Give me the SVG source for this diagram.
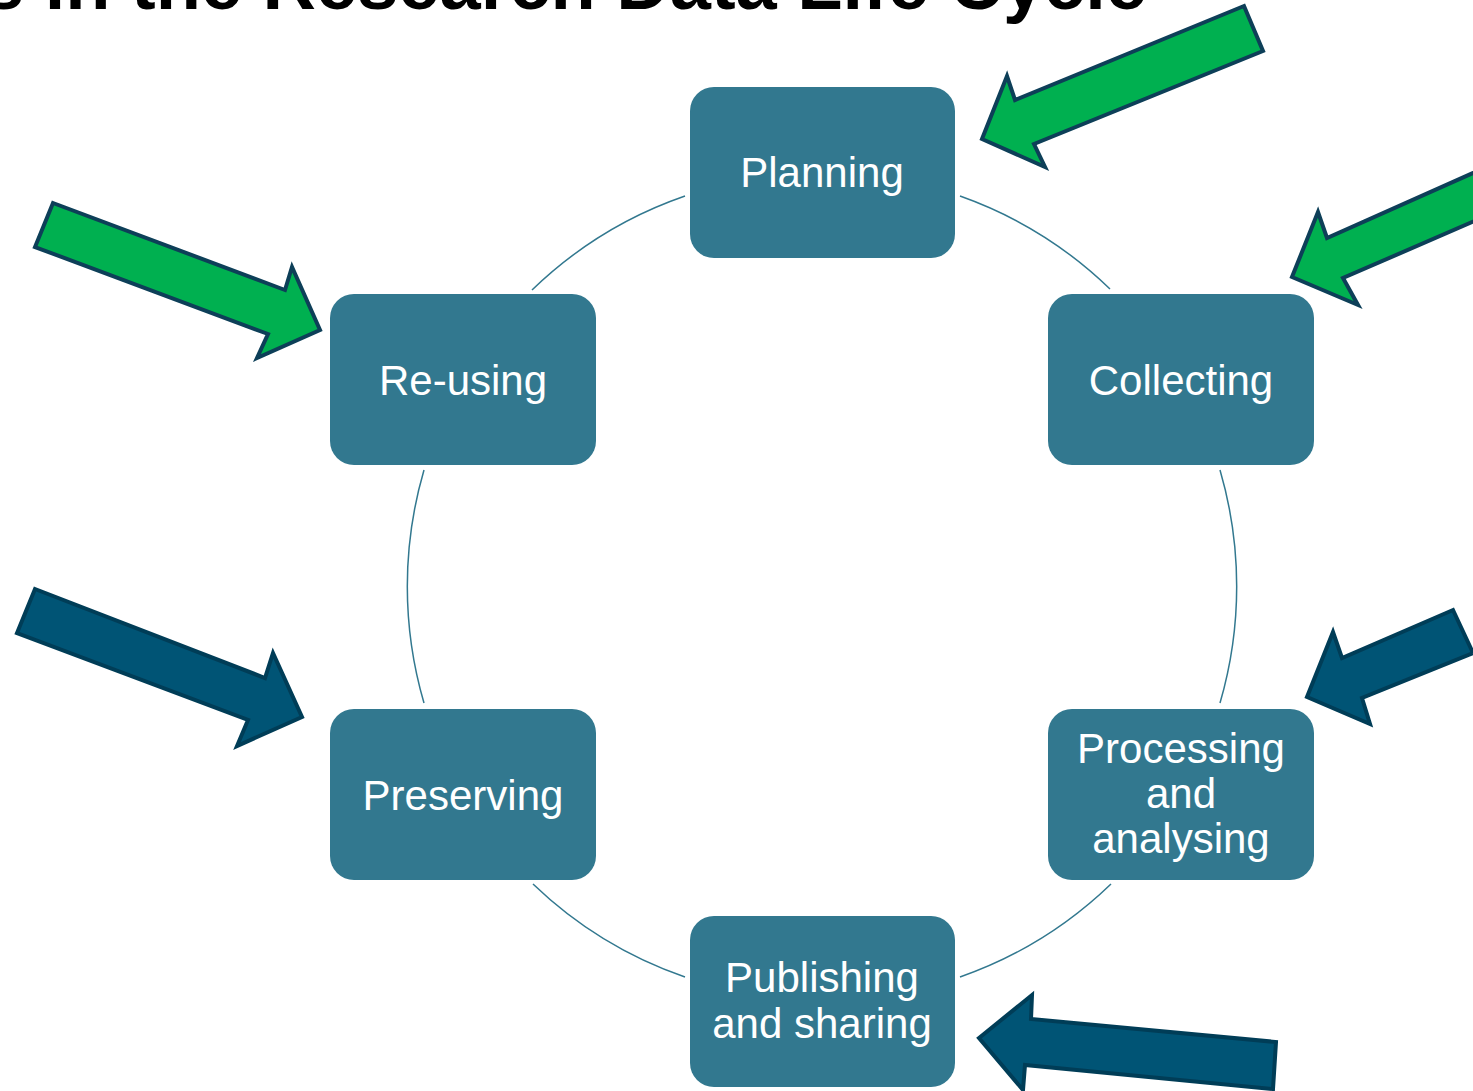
<svg xmlns="http://www.w3.org/2000/svg" width="1473" height="1091" viewBox="0 0 1473 1091">
<style>
.node{fill:#32788F;}
.lbl{font-family:"Liberation Sans",Arial,sans-serif;font-size:42px;fill:#FFFFFF;text-anchor:middle;}
.arc{fill:none;stroke:#32788F;stroke-width:1.5;}
.ag{fill:#00B050;stroke:#0D3F58;stroke-width:4;stroke-linejoin:miter;}
.ab{fill:#005475;stroke:#003D57;stroke-width:4;stroke-linejoin:miter;}
.title{font-family:"Liberation Sans",Arial,sans-serif;font-size:74px;font-weight:bold;fill:#000000;}
</style>
<rect width="1473" height="1091" fill="#FFFFFF"/>
<text class="title" x="-17" y="9">s in the Research Data Life Cycle</text>
<g id="connectors">
<path class="arc" d="M 685 196 A 415 415 0 0 0 532 290"/>
<path class="arc" d="M 960 196 A 415 415 0 0 1 1110 289"/>
<path class="arc" d="M 1220 470 A 415 415 0 0 1 1220 703"/>
<path class="arc" d="M 1111 884 A 415 415 0 0 1 960 977"/>
<path class="arc" d="M 685 977 A 415 415 0 0 1 533 884"/>
<path class="arc" d="M 424 703 A 415 415 0 0 1 424 470"/>
</g>
<g id="planning"><rect class="node" x="690" y="87" width="265" height="171" rx="24"/><text class="lbl" x="822" y="187">Planning</text></g>
<g id="collecting"><rect class="node" x="1048" y="294" width="266" height="171" rx="24"/><text class="lbl" x="1181" y="395">Collecting</text></g>
<g id="processing"><rect class="node" x="1048" y="709" width="266" height="171" rx="24"/><text class="lbl" x="1181" y="763">Processing</text><text class="lbl" x="1181" y="808">and</text><text class="lbl" x="1181" y="853">analysing</text></g>
<g id="publishing"><rect class="node" x="690" y="916" width="265" height="171" rx="24"/><text class="lbl" x="822" y="992">Publishing</text><text class="lbl" x="822" y="1038">and sharing</text></g>
<g id="preserving"><rect class="node" x="330" y="709" width="266" height="171" rx="24"/><text class="lbl" x="463" y="810">Preserving</text></g>
<g id="reusing"><rect class="node" x="330" y="294" width="266" height="171" rx="24"/><text class="lbl" x="463" y="395">Re-using</text></g>
<g id="arrows">
<polygon class="ag" points="1244,6 1263,51 1034,144 1045,167 982,139 1007,76 1015,100"/>
<polygon class="ag" points="1327,238 1318,212 1292,277 1358,305 1343,278 1530,197 1520,152"/>
<polygon class="ag" points="53,203 285,290 292,267 320,330 257,358 268,334 35,247"/>
<polygon class="ab" points="35,589 265,678 273,653 302,717 237,746 248,720 17,633"/>
<polygon class="ab" points="1342,658 1333,632 1307,697 1370,724 1362,698 1473,653 1453,610"/>
<polygon class="ab" points="979,1038 1032,995 1031,1019 1276,1042 1273,1089 1025,1065 1023,1090"/>
</g>
</svg>
